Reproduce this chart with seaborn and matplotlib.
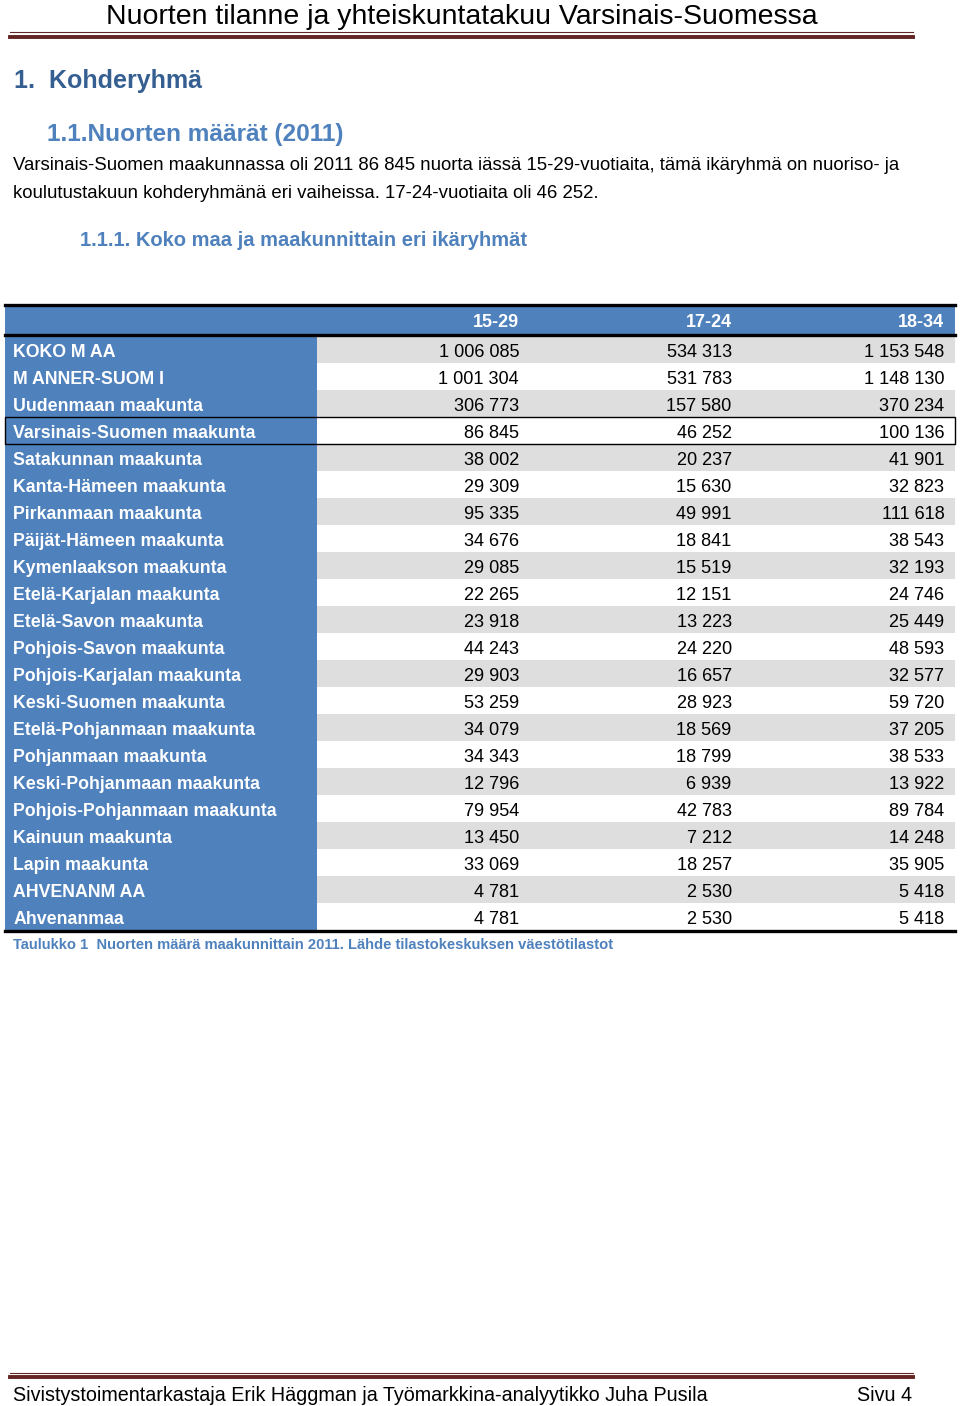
import numpy as np
import pandas as pd
import matplotlib.pyplot as plt
from matplotlib.colors import ListedColormap
from matplotlib.patches import Rectangle
from matplotlib.lines import Line2D
from matplotlib.transforms import blended_transform_factory
import seaborn as sns

# table data (Tilastokeskus, 2011)
regions = ["KOKO M AA", "M ANNER-SUOM I", "Uudenmaan maakunta",
           "Varsinais-Suomen maakunta", "Satakunnan maakunta",
           "Kanta-Hämeen maakunta", "Pirkanmaan maakunta",
           "Päijät-Hämeen maakunta", "Kymenlaakson maakunta",
           "Etelä-Karjalan maakunta", "Etelä-Savon maakunta",
           "Pohjois-Savon maakunta", "Pohjois-Karjalan maakunta",
           "Keski-Suomen maakunta", "Etelä-Pohjanmaan maakunta",
           "Pohjanmaan maakunta", "Keski-Pohjanmaan maakunta",
           "Pohjois-Pohjanmaan maakunta", "Kainuun maakunta",
           "Lapin maakunta", "AHVENANM AA", "Ahvenanmaa"]
age_groups = ["15-29", "17-24", "18-34"]
n_15_29 = [1006085, 1001304, 306773, 86845, 38002, 29309, 95335, 34676,
           29085, 22265, 23918, 44243, 29903, 53259, 34079, 34343, 12796,
           79954, 13450, 33069, 4781, 4781]
n_17_24 = [534313, 531783, 157580, 46252, 20237, 15630, 49991, 18841,
           15519, 12151, 13223, 24220, 16657, 28923, 18569, 18799, 6939,
           42783, 7212, 18257, 2530, 2530]
n_18_34 = [1153548, 1148130, 370234, 100136, 41901, 32823, 111618, 38543,
           32193, 24746, 25449, 48593, 32577, 59720, 37205, 38533, 13922,
           89784, 14248, 35905, 5418, 5418]
highlight_row = "Varsinais-Suomen maakunta"

df = pd.DataFrame({age_groups[0]: n_15_29, age_groups[1]: n_17_24,
                   age_groups[2]: n_18_34}, index=regions)

BLUE = "#4f81bd"
DARKBLUE = "#365f91"
GREY = "#dedede"
MAROON = "#632523"
NARROW = ["Liberation Sans Narrow", "Liberation Sans", "DejaVu Sans"]
SANS = ["Liberation Sans", "DejaVu Sans"]

W, H = 960, 1406
fig = plt.figure(figsize=(W / 100, H / 100), dpi=100)


def fx(x):
    return x / W


def fy(y):
    return 1 - y / H


def px_axes(x0, y0, x1, y1):
    ax = fig.add_axes([fx(x0), fy(y1), (x1 - x0) / W, (y1 - y0) / H])
    return ax


def fmt(v):
    return f"{v:,}".replace(",", " ")


# ---- page header / footer rules ----
for y, lw in [(32, 0.8), (36.5, 2.8), (1373, 0.8), (1377, 2.8)]:
    fig.add_artist(Line2D([fx(10), fx(913)], [fy(y), fy(y)], lw=lw, color=MAROON))

fig.text(fx(462), fy(17), "Nuorten tilanne ja yhteiskuntatakuu Varsinais-Suomessa",
         family=NARROW, fontsize=20.5, ha="center", va="center", color="black")
fig.text(fx(13), fy(1395.5), "Sivistystoimentarkastaja Erik Häggman ja Työmarkkina-analyytikko Juha Pusila",
         family=NARROW, fontsize=14.2, ha="left", va="center")
fig.text(fx(912), fy(1395.5), "Sivu 4", family=NARROW, fontsize=14.2, ha="right", va="center")

# ---- headings and body text ----
fig.text(fx(14), fy(81), "1.  Kohderyhmä", family=SANS, fontsize=18,
         weight="bold", color=DARKBLUE, va="center")
fig.text(fx(47), fy(135), "1.1.Nuorten määrät (2011)", family=SANS, fontsize=17.6,
         weight="bold", color=BLUE, va="center")
fig.text(fx(13), fy(166), "Varsinais-Suomen maakunnassa oli 2011 86 845 nuorta iässä "
         "15-29-vuotiaita, tämä ikäryhmä on nuoriso- ja", family=SANS, fontsize=13.4, va="center")
fig.text(fx(13), fy(194), "koulutustakuun kohderyhmänä eri vaiheissa. 17-24-vuotiaita oli 46 252.",
         family=SANS, fontsize=13.4, va="center")
fig.text(fx(80), fy(241), "1.1.1. Koko maa ja maakunnittain eri ikäryhmät", family=SANS,
         fontsize=14.5, weight="bold", color=BLUE, va="center")

# ---- table ----
n = len(regions)
stripes = np.tile((np.arange(n) % 2 == 0)[:, None], (1, len(age_groups))).astype(int)

ax_head = px_axes(5, 306, 955, 334.5)
ax_lab = px_axes(5, 336.5, 317, 930)
ax_dat = px_axes(317, 336.5, 955, 930)

sns.heatmap(np.zeros((1, 1)), ax=ax_head, cmap=ListedColormap([BLUE]), cbar=False,
            xticklabels=False, yticklabels=False)
sns.heatmap(np.zeros((n, 1)), ax=ax_lab, cmap=ListedColormap([BLUE]), cbar=False,
            xticklabels=False, yticklabels=False)
sns.heatmap(pd.DataFrame(stripes, index=df.index, columns=df.columns), ax=ax_dat,
            cmap=ListedColormap(["white", GREY]), vmin=0, vmax=1, cbar=False,
            xticklabels=False, yticklabels=False)
for ax in (ax_head, ax_lab, ax_dat):
    ax.set_xlabel("")
    ax.set_ylabel("")

# column headers aligned to the data columns
htrans = blended_transform_factory(ax_dat.transData, ax_head.transAxes)
for j, g in enumerate(df.columns):
    ax_head.text(j + 1 - 0.05, 0.42, g, transform=htrans, ha="right", va="center",
                 family=SANS, fontsize=13, weight="bold", color="white")

for i, name in enumerate(df.index):
    ax_lab.text(0.026, i + 0.6, name, ha="left", va="center", family=SANS,
                fontsize=12.8, weight="bold", color="white")
    for j, col in enumerate(df.columns):
        ax_dat.text(j + 1 - 0.05, i + 0.6, fmt(df.loc[name, col]), ha="right",
                    va="center", family=SANS, fontsize=13.1, color="black")

# thick black rules of the table
for y, lw in [(304.5, 2.4), (335, 2.4), (930.5, 2.4)]:
    fig.add_artist(Line2D([fx(5), fx(955)], [fy(y), fy(y)], lw=lw, color="black"))

# box around the highlighted row
k = regions.index(highlight_row)
btrans = blended_transform_factory(fig.transFigure, ax_dat.transData)
fig.add_artist(Rectangle((fx(5), k), (955 - 5) / W, 1, transform=btrans,
                         fill=False, lw=1.0, edgecolor="black"))

fig.text(fx(13), fy(945), "Taulukko 1  Nuorten määrä maakunnittain 2011. Lähde tilastokeskuksen väestötilastot",
         family=NARROW, fontsize=10.6, weight="bold", color=BLUE, va="center")

fig.savefig("out.png", dpi=100)
